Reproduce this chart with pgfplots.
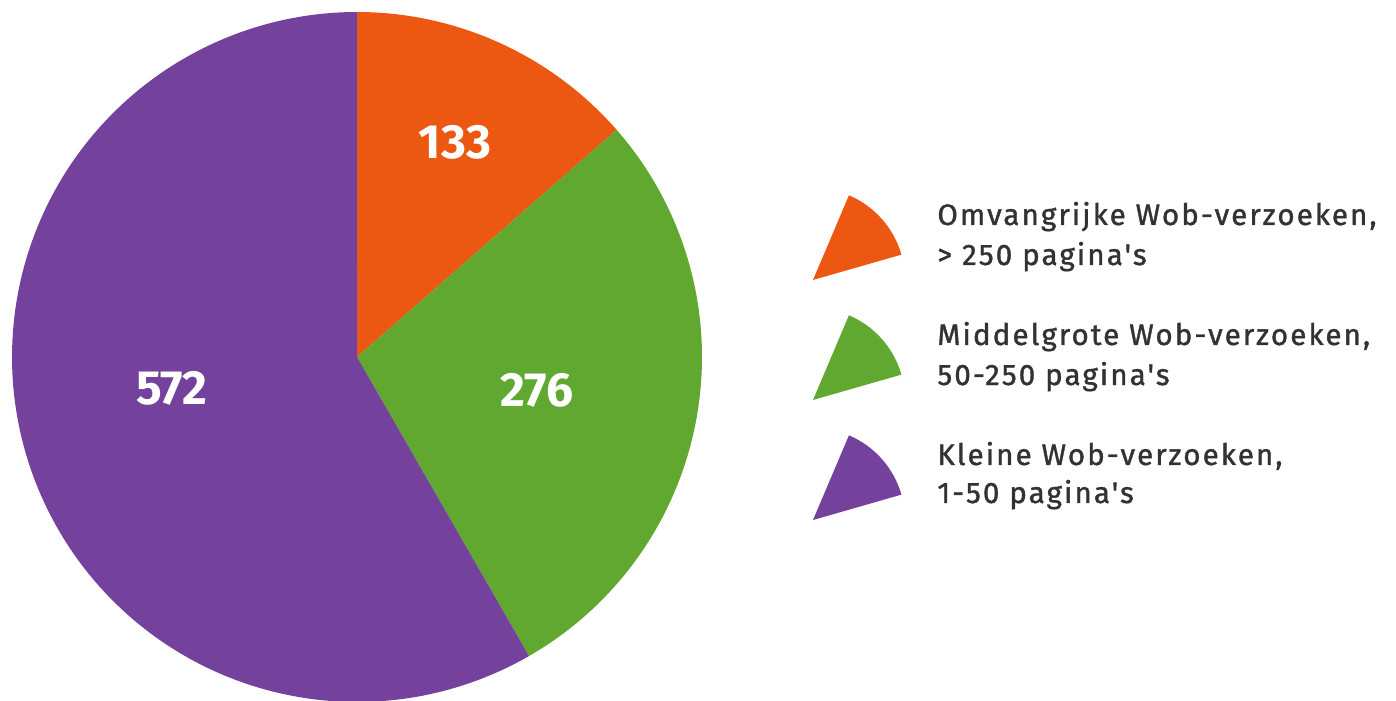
\documentclass[border=0pt]{standalone}
\usepackage{pgfplots}
\pgfplotsset{compat=1.18}
\usepackage{fontspec}
\setmainfont{Fira Sans}
\newfontfamily\legfont{Fira Sans}[LetterSpace=7, FakeBold=1.2]
\definecolor{cOr}{RGB}{236,88,18}
\definecolor{cGr}{RGB}{96,168,48}
\definecolor{cPu}{RGB}{116,66,156}
\definecolor{cTx}{RGB}{50,50,50}
\def\vA{133}
\def\vB{276}
\def\vC{572}
\pgfmathsetmacro\tot{\vA+\vB+\vC}
\pgfmathsetmacro\aA{90-360*(\vA/\tot)}
\pgfmathsetmacro\aB{\aA-360*(\vB/\tot)}
\pgfmathsetmacro\aC{\aB-360*(\vC/\tot)}
\begin{document}
\begin{tikzpicture}
\begin{axis}[
  x=172.5pt, y=172.5pt,
  scale only axis, hide axis, clip=false,
  xmin=-1.0348, xmax=3.0116, ymin=-0.9971, ymax=1.0348,
]
\addplot[fill=cOr, draw=none, domain=\aA:90, samples=80, variable=\t] ({cos(\t)},{sin(\t)}) -- (axis cs:0,0) -- cycle;
\addplot[fill=cGr, draw=none, domain=\aB:\aA, samples=120, variable=\t] ({cos(\t)},{sin(\t)}) -- (axis cs:0,0) -- cycle;
\addplot[fill=cPu, draw=none, domain=\aC:\aB, samples=200, variable=\t] ({cos(\t)},{sin(\t)}) -- (axis cs:0,0) -- cycle;
\begin{scope}[every node/.style={white, font=\fontsize{24}{28}\selectfont\bfseries}]
\node at (axis cs:0.284,0.623) {\vA};
\node at (axis cs:0.5217,-0.0957) {\vB};
\node at (axis cs:-0.536,-0.0899) {\vC};
\end{scope}
% legend
\fill[cOr] (axis cs:1.3217,0.2232) -- ++(16:46pt) arc[start angle=16, end angle=67, radius=46pt] -- cycle;
\fill[cGr] (axis cs:1.3217,-0.1246) -- ++(16:46pt) arc[start angle=16, end angle=67, radius=46pt] -- cycle;
\fill[cPu] (axis cs:1.3217,-0.4725) -- ++(16:46pt) arc[start angle=16, end angle=67, radius=46pt] -- cycle;
\begin{scope}[every node/.style={anchor=base west, inner sep=0pt, text=cTx, font=\legfont\fontsize{14.8}{17}\selectfont}]
\node at (axis cs:1.6812,0.3826) {Omvangrijke Wob-verzoeken,};
\node at (axis cs:1.6812,0.2667) {> 250 pagina's};
\node at (axis cs:1.6812,0.0348) {Middelgrote Wob-verzoeken,};
\node at (axis cs:1.6812,-0.0812) {50-250 pagina's};
\node at (axis cs:1.6812,-0.3130) {Kleine Wob-verzoeken,};
\node at (axis cs:1.6812,-0.4232) {1-50 pagina's};
\end{scope}
\end{axis}
\pgfresetboundingbox
\path (current axis.south west) rectangle (current axis.north east);
\end{tikzpicture}
\end{document}
